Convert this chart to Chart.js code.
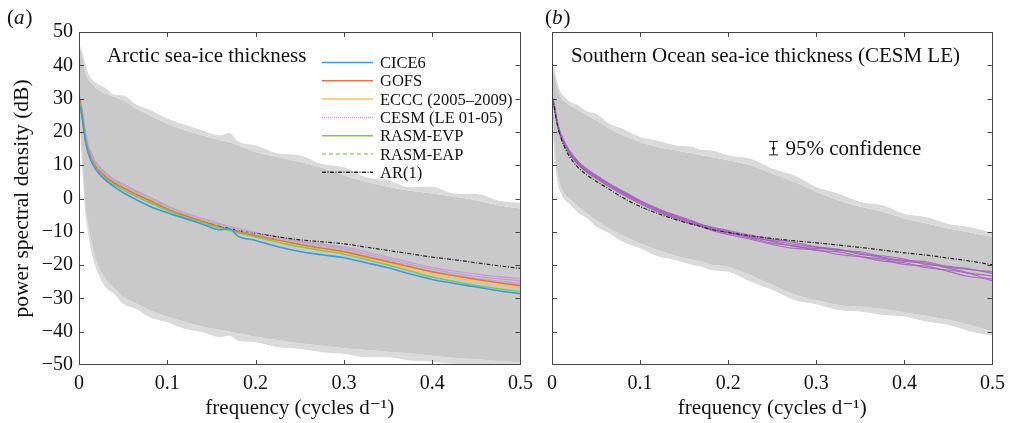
<!DOCTYPE html>
<html>
<head>
<meta charset="utf-8">
<script src="https://cdn.jsdelivr.net/npm/chart.js@4.4.1/dist/chart.umd.min.js"></script>
<style>
  body { margin: 0; background: #fff; }
  #wrap { position: relative; width: 1012px; height: 423px; }
  canvas { position: absolute; top: 0; }
  #leftChart { left: 0; }
  #rightChart { left: 540px; }
</style>
</head>
<body>
<div id="wrap">
  <canvas id="leftChart" width="540" height="423"></canvas>
  <canvas id="rightChart" width="472" height="423"></canvas>
</div>
<script>
// frequency grid (cycles per day) shared by every series
const freq = [0, 0.0025, 0.005, 0.0075, 0.01, 0.015, 0.02, 0.03, 0.04, 0.05, 0.065, 0.08, 0.1, 0.12, 0.14, 0.16, 0.17, 0.18, 0.2, 0.225, 0.25, 0.275, 0.3, 0.325, 0.35, 0.375, 0.4, 0.425, 0.45, 0.475, 0.5];

const xTicks = [0, 0.1, 0.2, 0.3, 0.4, 0.5];
const yTicks = [-50, -40, -30, -20, -10, 0, 10, 20, 30, 40, 50];

// (a) Arctic: grey ensemble envelope and its outermost members
const arcticUpper = [46, 44, 41, 38, 36, 34.5, 33, 31.5, 30.5, 29.5, 27, 25, 22.5, 20.5, 19, 17.5, 17, 16, 14, 12.5, 11, 9.2, 7, 5, 3.5, 2.3, 1.5, 0.5, -0.5, -2, -3];
const arcticLower = [30, 18, 8, -2, -7, -14, -19, -24, -27, -29.5, -31.5, -33.5, -35.5, -37, -38.5, -39.5, -40, -40.5, -41.5, -42.5, -43.5, -44.2, -45, -45.5, -46, -46.5, -47.2, -47.8, -48.3, -48.8, -49.3];
const arcticUpperFringe = [46, 44.5, 42, 39.5, 37.5, 35.5, 34.5, 33, 31, 30.8, 28, 26.5, 23.8, 22, 20.2, 18.8, 19.5, 17, 15.8, 13.4, 12.8, 10.2, 9.2, 6.2, 5.3, 3.2, 3.4, 1.3, 1.2, -0.8, -1.5];
const arcticLowerFringe = [30, 17, 6, -4, -9, -16.5, -21, -26.5, -28.5, -31.5, -33, -35.5, -37, -39, -40, -41.5, -41, -42.5, -43, -44.5, -45, -46, -46.5, -47.5, -47.5, -48.5, -48.8, -49.5, -49.5, -50, -50];

// (a) model spectra
const cice6 = [28.5, 26, 21.5, 17, 14, 10.5, 8.3, 5.5, 3.5, 1.8, -0.4, -2.3, -4.3, -6, -7.7, -9.4, -9.0, -11.3, -12.6, -14.5, -15.9, -16.9, -17.8, -19.3, -20.8, -22.7, -24.3, -25.5, -26.6, -27.7, -28.6];
const gofs = [30.5, 27.5, 22.5, 18, 15, 11.5, 9.2, 6.5, 4.6, 3.2, 1.2, -0.6, -3.2, -5.2, -7, -8.6, -9.3, -10, -11.2, -12.5, -13.8, -14.9, -16, -17.5, -19, -20.5, -22, -23.2, -24.3, -25.3, -26.2];
const eccc = [29.5, 27, 22, 17.5, 14.5, 11, 8.8, 6.2, 4.3, 2.8, 0.8, -1, -3.5, -5.5, -7.2, -8.8, -9.5, -10.2, -11.5, -12.9, -14.2, -15.3, -16.3, -17.8, -19.4, -21, -22.6, -23.8, -24.9, -25.9, -26.8];
const cesmA1 = [30, 28, 23.5, 19, 16, 12.5, 10.2, 7.5, 5.5, 4, 2, 0.2, -2.6, -4.7, -6.5, -8, -8.8, -9.4, -10.6, -11.9, -13.1, -14.1, -15.1, -16.6, -18.2, -19.8, -21.3, -22.4, -23.4, -24.1, -24.7];
const cesmA2 = [30, 27.5, 23, 18.5, 15.5, 12, 9.8, 7, 5, 3.5, 1.4, -0.5, -3, -5, -6.8, -8.5, -9.2, -9.8, -11, -12.4, -13.7, -14.8, -15.8, -17.2, -18.8, -20.5, -22, -23, -24, -24.8, -25.5];
const cesmA3 = [30.5, 28.5, 24, 19.5, 16.5, 13, 10.6, 7.8, 5.8, 4.4, 2.3, 0.5, -2.2, -4.3, -6, -7.6, -8.4, -9, -10.2, -11.6, -12.8, -13.7, -14.6, -16, -17.6, -19.2, -20.7, -21.8, -22.7, -23.5, -24];
const rasmEvp = [29.5, 26.5, 21.5, 17.3, 14.3, 10.8, 8.6, 6, 4.1, 2.6, 0.6, -1.2, -3.6, -5.6, -7.3, -8.9, -9.6, -10.3, -11.6, -13.1, -14.5, -15.6, -16.7, -18.3, -20, -21.8, -23.6, -24.9, -26.1, -27.1, -28];
const rasmEap = [30, 27.5, 23, 18.5, 15.5, 12, 9.8, 7.2, 5.2, 3.8, 1.8, 0, -2.5, -4.6, -6.4, -8, -8.7, -9.4, -10.6, -12, -13.3, -14.4, -15.4, -17, -18.6, -20.2, -21.8, -23, -24.2, -25.2, -26];
const arArctic = [30, 27, 22, 17.5, 14.6, 11.2, 9, 6.4, 4.5, 3, 0.9, -0.9, -3.5, -5.4, -7, -8.4, -9, -9.6, -10.5, -11.5, -12.4, -13, -13.6, -14.6, -15.6, -16.6, -17.6, -18.4, -19.3, -20.2, -21];

const legendLabels = ["CICE6", "GOFS", "ECCC (2005\u20132009)", "CESM (LE 01-05)", "RASM-EVP", "RASM-EAP", "AR(1)"];

// (b) Southern Ocean: grey ensemble envelope and its outermost members
const southUpper = [40, 37.5, 34.5, 32, 30.5, 29, 28, 26.5, 25, 23.5, 21, 19, 17, 15.5, 14.5, 13.5, 13, 12.5, 11.5, 10, 7.5, 5, 2, -0.5, -2.5, -4, -6, -7.5, -9, -10.2, -11.5];
const southLower = [30, 18, 10, 6, 3.5, 1, 0, -2.5, -4.5, -6.5, -9, -11, -13.5, -15.5, -17.2, -18.5, -19, -19.8, -20.5, -23, -26, -28.8, -30.5, -32, -32.5, -33.2, -34.2, -35.2, -36.5, -38, -40];
const southUpperFringe = [40, 38, 35.5, 33, 31.5, 30.2, 29, 27.8, 26, 25.3, 22.3, 20.8, 18.3, 17.2, 15.8, 15.3, 14.4, 14.3, 12.8, 11.8, 8.8, 6.8, 3.3, 1.3, -1.2, -2.2, -4.8, -5.8, -7.8, -8.8, -10.5];
const southLowerFringe = [30, 16, 8, 4, 2, -0.5, -1.5, -4.2, -5.8, -8.2, -10.3, -12.8, -14.8, -17.2, -18.3, -19.8, -20.3, -21.3, -21.8, -24.8, -27.3, -30.3, -31.6, -33.3, -33.8, -34.8, -35.3, -36.8, -37.8, -39.8, -41];

// (b) CESM LE members 01-05 and AR(1)
const cesmS1 = [30.5, 28, 24, 21, 19, 16, 13.8, 10.5, 8.3, 6.5, 4, 1.8, -1, -3.5, -5.5, -7.3, -8.1, -8.9, -10.1, -11.6, -12.6, -13.8, -14.6, -15.2, -16.8, -17.2, -18.2, -19.8, -20.4, -21.2, -22.5];
const cesmS2 = [30, 27.5, 23.5, 20.5, 18.5, 15.5, 13.2, 10, 7.8, 6, 3.5, 1.2, -1.6, -4, -6, -7.5, -8.5, -9.5, -10.8, -12.2, -13.8, -15, -15.4, -16.8, -17.5, -18.3, -19.8, -20.3, -21.9, -23.5, -24.2];
const cesmS3 = [31, 28.5, 24.5, 21.5, 19.5, 16.5, 14.3, 11, 8.8, 7, 4.5, 2.3, -0.6, -3, -5, -6.8, -7.8, -8.5, -9.6, -11, -12.2, -13.2, -14.5, -15.6, -16, -17.6, -18.6, -19, -20.6, -21.4, -22];
const cesmS4 = [30.5, 27.8, 23.8, 20.8, 18.8, 15.8, 13.5, 10.2, 8, 6.2, 3.8, 1.5, -1.3, -3.8, -5.8, -7.8, -8.3, -9.2, -10.4, -11.8, -13.4, -14.2, -15.6, -16, -17.4, -18.8, -19.3, -20.8, -21.5, -22.6, -24.8];
const cesmS5 = [30, 28.2, 24.2, 21.2, 19.2, 16.2, 14, 10.8, 8.5, 6.8, 4.2, 2, -0.8, -3.2, -5.2, -7, -7.9, -8.7, -9.9, -11.4, -12.9, -14.4, -15, -15.4, -16.4, -17.9, -18.9, -19.4, -20.9, -22.4, -23.3];
const arSouth = [30, 27.5, 23.5, 20.5, 18.3, 15, 12.5, 9.2, 7, 5.2, 2.8, 0.3, -2.4, -4.5, -6.3, -7.8, -8.5, -9.2, -10.2, -11.2, -12, -12.7, -13.3, -14, -14.7, -15.5, -16.3, -17, -17.9, -18.8, -19.9];

// 95% confidence bar: [frequency, low dB, high dB]
const confidenceBar = [0.251, 13.1, 17.1];

const SERIF = '"Liberation Serif", "DejaVu Serif", serif';
const GREY = "#c9c9c9";
const LIGHT = "#dadada";
const AXIS = "#444";

function series(values) {
    return values.map((v, i) => ({ x: freq[i], y: v }));
}

function line(values, color, width, dash) {
    return {
        data: series(values),
        borderColor: color,
        borderWidth: width,
        borderDash: dash || [],
        pointRadius: 0,
        fill: false,
        cubicInterpolationMode: "monotone"
    };
}

// outer members in light grey, dense core in darker grey
function envelope(lower, upper, lowFringe, upFringe) {
    const f0 = line(lowFringe, "#d8d8d8", 1);
    const lo = line(lower, LIGHT, 0);
    lo.fill = "-1"; lo.backgroundColor = LIGHT;
    const hi = line(upper, GREY, 0);
    hi.fill = "-1"; hi.backgroundColor = GREY;
    const f1 = line(upFringe, "#d8d8d8", 1);
    f1.fill = "-1"; f1.backgroundColor = LIGHT;
    return [f0, lo, hi, f1];
}

// Chart.js paints low "order" on top, so give later datasets lower order
function stack(sets) {
    sets.forEach((d, i) => { d.order = sets.length - i; });
    return sets;
}

function fmtY(v) {
    return v < 0 ? "\u2212" + Math.abs(v) : String(v);
}

function fmtX(v) {
    return v === 0 ? "0" : v.toFixed(1);
}

// Frame, inward ticks, panel label, title, legend
function makeDecor(cfg) {
    return {
        id: "decor_" + cfg.label,
        afterDatasetsDraw(chart) {
            const { ctx, chartArea: a, scales } = chart;
            const xs = scales.x, ys = scales.y;
            ctx.save();
            ctx.strokeStyle = AXIS;
            ctx.lineWidth = 1;
            ctx.strokeRect(Math.round(a.left) + 0.5, Math.round(a.top) + 0.5,
                Math.round(a.right - a.left) - 1, Math.round(a.bottom - a.top) - 1);
            ctx.beginPath();
            xTicks.slice(1, -1).forEach(v => {
                const px = Math.round(xs.getPixelForValue(v)) + 0.5;
                ctx.moveTo(px, a.bottom); ctx.lineTo(px, a.bottom - 5);
                ctx.moveTo(px, a.top); ctx.lineTo(px, a.top + 5);
            });
            yTicks.slice(1, -1).forEach(v => {
                const py = Math.round(ys.getPixelForValue(v)) + 0.5;
                ctx.moveTo(a.left, py); ctx.lineTo(a.left + 5, py);
                ctx.moveTo(a.right, py); ctx.lineTo(a.right - 5, py);
            });
            ctx.stroke();

            // panel label like "(a)"
            ctx.fillStyle = "#111";
            ctx.textBaseline = "alphabetic";
            ctx.font = "21px " + SERIF;
            let x = cfg.labelX;
            ctx.fillText("(", x, 24); x += ctx.measureText("(").width;
            ctx.font = "italic 21px " + SERIF;
            ctx.fillText(cfg.label, x, 24); x += ctx.measureText(cfg.label).width + 1;
            ctx.font = "21px " + SERIF;
            ctx.fillText(")", x, 24);

            ctx.fillText(cfg.title, cfg.titleX, 62);

            if (cfg.legend) {
                ctx.font = "16.5px " + SERIF;
                cfg.legend.forEach((item, i) => {
                    const cy = 62.5 + i * 18.3;
                    ctx.strokeStyle = item.color;
                    ctx.lineWidth = 1.5;
                    ctx.setLineDash(item.dash || []);
                    ctx.beginPath();
                    ctx.moveTo(cfg.legendX, cy);
                    ctx.lineTo(cfg.legendX + 51, cy);
                    ctx.stroke();
                    ctx.setLineDash([]);
                    ctx.fillStyle = "#111";
                    ctx.fillText(item.text, cfg.legendX + 58, cy + 5.5);
                });
            }

            if (cfg.confidence) {
                const [f, lo, hi] = cfg.confidence;
                const px = Math.round(xs.getPixelForValue(f)) + 0.5;
                const pLo = ys.getPixelForValue(lo), pHi = ys.getPixelForValue(hi);
                ctx.strokeStyle = "#222";
                ctx.lineWidth = 1;
                ctx.beginPath();
                ctx.moveTo(px, pLo); ctx.lineTo(px, pHi);
                ctx.moveTo(px - 4.5, pLo); ctx.lineTo(px + 4.5, pLo);
                ctx.moveTo(px - 4.5, pHi); ctx.lineTo(px + 4.5, pHi);
                ctx.stroke();
                ctx.fillStyle = "#222";
                ctx.beginPath();
                ctx.arc(px, (pLo + pHi) / 2, 1.6, 0, Math.PI * 2);
                ctx.fill();
                ctx.fillStyle = "#111";
                ctx.font = "21px " + SERIF;
                ctx.fillText("95% confidence", px + 12, (pLo + pHi) / 2 + 7);
            }
            ctx.restore();
        }
    };
}

function makePanel(canvasId, datasets, yAxisWidth, padRight, showYLabels, decor) {
    const ctx = document.getElementById(canvasId).getContext("2d");
    return new Chart(ctx, {
        type: "line",
        data: { datasets: stack(datasets) },
        options: {
            responsive: false,
            animation: false,
            devicePixelRatio: 1,
            layout: { padding: { top: 32, right: padRight, bottom: 0, left: 0 } },
            plugins: { legend: { display: false }, tooltip: { enabled: false } },
            scales: {
                x: {
                    type: "linear", min: 0, max: 0.5,
                    grid: { display: false, drawTicks: false }, border: { display: false },
                    afterBuildTicks: s => { s.ticks = xTicks.map(v => ({ value: v })); },
                    afterFit: s => { s.height = 58; },
                    ticks: {
                        callback: fmtX, autoSkip: false, maxRotation: 0, padding: 7,
                        color: "#111", font: { family: SERIF, size: 20 }
                    },
                    title: {
                        display: true, text: "frequency (cycles d\u207B\u00B9)",
                        color: "#111", font: { family: SERIF, size: 21 },
                        padding: { top: 0, bottom: 2 }
                    }
                },
                y: {
                    type: "linear", min: -50, max: 50,
                    grid: { display: false, drawTicks: false }, border: { display: false },
                    afterBuildTicks: s => { s.ticks = yTicks.map(v => ({ value: v })); },
                    afterFit: s => { s.width = yAxisWidth; },
                    ticks: {
                        display: showYLabels, callback: fmtY, autoSkip: false, padding: 6,
                        color: "#111", font: { family: SERIF, size: 20 }
                    },
                    title: {
                        display: showYLabels, text: "power spectral density (dB)",
                        color: "#111", font: { family: SERIF, size: 21.5 },
                        padding: { top: 9, bottom: 0 }
                    }
                }
            }
        },
        plugins: [decor]
    });
}

const C = {
    cice6: "#3d9bd6", gofs: "#e07550", eccc: "#f2c45a", cesm: "#c99bd9",
    evp: "#86c455", eap: "#a5cf6a", ar: "#2a2a2a", cesmS: "rgba(163, 95, 188, 0.85)"
};
const AR_DASH = [4, 1.5, 1, 1.5];

const leftSets = envelope(arcticLower, arcticUpper, arcticLowerFringe, arcticUpperFringe).concat([
    line(cesmA2, C.cesm, 1.3),
    line(cesmA1, C.cesm, 1.3),
    line(cesmA3, C.cesm, 1.3),
    line(arArctic, C.ar, 1.2, AR_DASH),
    line(rasmEap, C.eap, 1.4, [4, 3]),
    line(eccc, C.eccc, 1.5),
    line(gofs, C.gofs, 1.5),
    line(rasmEvp, C.evp, 1.5),
    line(cice6, C.cice6, 1.6)
]);

const legendStyles = [
    { color: C.cice6 }, { color: C.gofs }, { color: C.eccc },
    { color: C.cesm, dash: [1, 1] }, { color: C.evp },
    { color: C.eap, dash: [4, 3] }, { color: C.ar, dash: AR_DASH }
];

makePanel("leftChart", leftSets, 79, 15, true, makeDecor({
    label: "a", labelX: 7, title: "Arctic sea-ice thickness", titleX: 107,
    legendX: 322,
    legend: legendLabels.map((t, i) => Object.assign({ text: t }, legendStyles[i]))
}));

const rightSets = envelope(southLower, southUpper, southLowerFringe, southUpperFringe).concat([
    line(cesmS1, C.cesmS, 1.2),
    line(cesmS2, C.cesmS, 1.2),
    line(cesmS3, C.cesmS, 1.2),
    line(cesmS4, C.cesmS, 1.2),
    line(cesmS5, C.cesmS, 1.2),
    line(arSouth, C.ar, 1.2, AR_DASH)
]);

// right canvas starts at x = 540, so text positions are local to it
makePanel("rightChart", rightSets, 11, 16, false, makeDecor({
    label: "b", labelX: 5, title: "Southern Ocean sea-ice thickness (CESM LE)", titleX: 31,
    confidence: confidenceBar
}));
</script>
</body>
</html>
